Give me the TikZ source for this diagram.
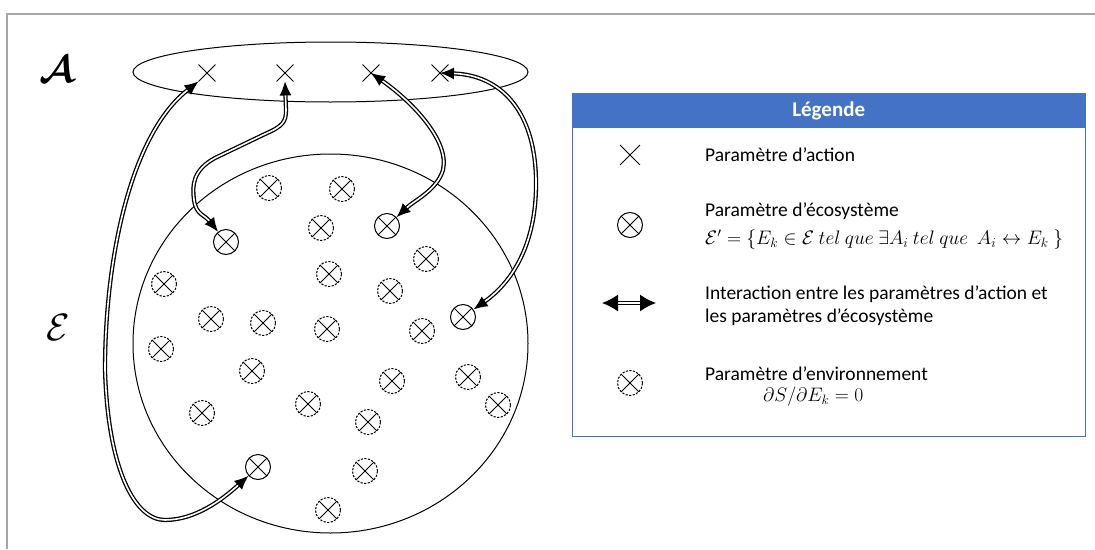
\documentclass[tikz,border=0pt]{standalone}
\usepackage{fontspec}
\setmainfont{Carlito}
\usetikzlibrary{arrows.meta,shapes.misc,shapes.geometric}
\definecolor{legblue}{HTML}{4472C4}
\definecolor{framegray}{HTML}{A6A6A6}
\tikzset{
  actp/.style={cross out, draw, minimum size=16pt, inner sep=0pt, line width=0.9pt},
  ecop/.style={circle, draw, minimum size=25pt, inner sep=0pt, line width=1pt,
    path picture={\draw[solid, line width=1pt]
      (path picture bounding box.north west) -- (path picture bounding box.south east)
      (path picture bounding box.north east) -- (path picture bounding box.south west);}},
  envp/.style={ecop, dash pattern=on 2.2pt off 1.4pt},
  inter/.style={double, double distance=1.6pt, line width=1.3pt,
    {Latex[length=14pt,width=12pt]}-{Latex[length=14pt,width=12pt]}},
  legtext/.style={anchor=west, inner sep=0pt, font=\fontsize{19.5}{23}\selectfont, align=left},
  legmath/.style={anchor=west, inner sep=0pt, font=\fontsize{17.28}{20}\selectfont, scale=1.13},
  setlabel/.style={inner sep=0pt, font=\fontsize{24.88}{25}\selectfont, scale=1.53},
}
\begin{document}
\begin{tikzpicture}[x=1pt,y=-1pt]
\useasboundingbox (0,0) rectangle (1095,549);
% frame
\draw[framegray, line width=1.5pt] (7,549) -- (7,14) -- (1095,14);
% labels
\node[setlabel, font=\fontsize{24.88}{25}\selectfont\boldmath] (lA) at (57,69) {$\mathcal{A}$};
\node[setlabel] (lE) at (58,327) {$\mathcal{E}$};
% sets
\node[draw, ellipse, minimum width=395, minimum height=60, inner sep=0pt, line width=1pt] (setA) at (330.5,72) {};
\node[draw, ellipse, minimum width=395, minimum height=379, inner sep=0pt, line width=1pt] (setE) at (330.5,343.5) {};
% action parameters
\node[actp] (a1) at (207,73) {};
\node[actp] (a2) at (285,73) {};
\node[actp] (a3) at (371,73) {};
\node[actp] (a4) at (440,73) {};
% environment parameters
\foreach \n/\x/\y in {d1/269/188, d2/342/189, d3/321/228, d4/426/259, d5/329/274,
  d6/164/284, d7/390/291, d8/211/319, d9/263/323, d10/327/329, d11/422/331,
  d12/161/349, d13/252/371, d14/392/381, d15/468/377, d16/308/404, d17/498/405,
  d18/202/413, d19/368/422, d20/365/471, d21/328/510}
  \node[envp] (\n) at (\x,\y) {};
% ecosystem parameters
\node[ecop] (s1) at (226,242) {};
\node[ecop] (s2) at (387,226) {};
\node[ecop] (s3) at (463,317) {};
\node[ecop] (s4) at (258,467) {};
% interactions
\draw[inter] (a1.south west) .. controls (130,135) and (105,260) .. (105,370)
  .. controls (108,470) and (135,520) .. (165,520)
  .. controls (195,520) and (222,500) .. (s4);
\draw[inter] (a2.south) -- (286,110) .. controls (286,122) and (283,126) .. (265,134)
  -- (215,158) .. controls (193,170) and (192,185) .. (194,200)
  .. controls (196,215) and (205,215) .. (s1);
\draw[inter] (a3.center) .. controls (410,100) and (450,140) .. (443,170)
  .. controls (437,190) and (415,200) .. (s2);
\draw[inter] (a4.center) .. controls (500,75) and (535,110) .. (536,180)
  .. controls (537,240) and (515,280) .. (s3);
% legend
\node[draw=legblue, line width=1pt, minimum width=513, minimum height=343, anchor=north west, inner sep=0pt] (leg) at (572,93) {};
\node[fill=legblue, text=white, minimum width=513, minimum height=35, anchor=north west, inner sep=0pt, font=\fontsize{21}{23}\selectfont\bfseries] (head) at (572,93) {Légende};
\node[actp, minimum size=19pt] (k1) at (630,155) {};
\node[legtext] (t1) at (705,155) {Paramètre d’action};
\node[ecop] (k2) at (630,225) {};
\node[legtext] (t2) at (705,211) {Paramètre d’écosystème};
\node[legmath] (t2m) at (705,240) {$\mathcal{E}' = \{E_k \in \mathcal{E}\ tel\ que\ \exists A_i\ tel\ que\ \ A_i \leftrightarrow E_k\ \}$};
\coordinate (k3a) at (602,303);
\coordinate (k3b) at (656,303);
\draw[double, double distance=2pt, line width=1.4pt, {Latex[length=16pt,width=17pt]}-{Latex[length=16pt,width=17pt]}] (k3a) -- (k3b);
\node[legtext] (t3) at (705,306) {Interaction entre les paramètres d’action et\\les paramètres d’écosystème};
\node[envp] (k4) at (630,383) {};
\node[legtext] (t4) at (705,374) {Paramètre d’environnement};
\node[legmath] (t4m) at (763,397) {$\partial S/\partial E_k = 0$};
\end{tikzpicture}
\end{document}
